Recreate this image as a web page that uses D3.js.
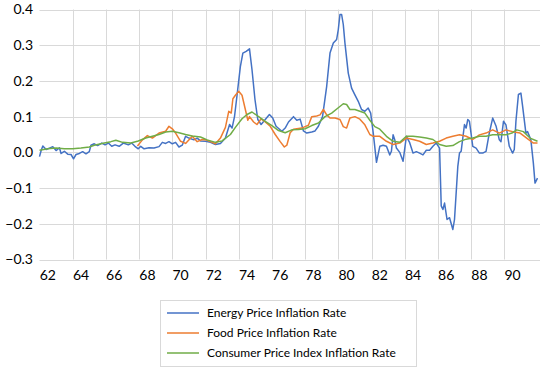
<!DOCTYPE html>
<html>
<head>
<meta charset="utf-8">
<script src="https://cdn.jsdelivr.net/npm/d3@7"></script>
<style>
  body { margin: 0; background: #fff; }
  text { font-family: Lato, "Open Sans", sans-serif; fill: #000; }
  .grid line { stroke: #d9d9d9; stroke-width: 1; }
  .series { fill: none; stroke-width: 1.5; stroke-linejoin: round; }
</style>
</head>
<body>
<div id="container"></div>
<script>
// readings, fractional years
var energyYears = [1962.0,1962.1,1962.2,1962.4,1962.6,1962.8,1963.0,1963.2,1963.3,1963.5,1963.7,1963.9,1964.05,1964.2,1964.4,1964.6,1964.8,1965.0,1965.1,1965.3,1965.5,1965.75,1965.95,1966.15,1966.35,1966.55,1966.8,1967.05,1967.35,1967.55,1967.75,1967.95,1968.1,1968.3,1968.6,1968.9,1969.2,1969.4,1969.6,1969.8,1970.0,1970.2,1970.4,1970.6,1970.8,1971.0,1971.3,1971.5,1971.7,1972.0,1972.3,1972.6,1972.9,1973.2,1973.45,1973.6,1973.75,1973.9,1974.1,1974.25,1974.45,1974.65,1974.8,1974.98,1975.15,1975.35,1975.6,1975.85,1976.05,1976.25,1976.6,1976.8,1977.0,1977.3,1977.5,1977.7,1977.9,1978.1,1978.4,1978.6,1978.8,1979.05,1979.3,1979.5,1979.7,1979.9,1980.0,1980.1,1980.2,1980.3,1980.4,1980.6,1980.8,1981.0,1981.2,1981.4,1981.6,1981.8,1981.95,1982.1,1982.3,1982.5,1982.7,1982.9,1983.1,1983.2,1983.3,1983.4,1983.5,1983.7,1983.9,1984.1,1984.3,1984.5,1984.7,1984.9,1985.1,1985.3,1985.5,1985.7,1985.9,1986.1,1986.2,1986.3,1986.4,1986.55,1986.7,1986.9,1987.0,1987.2,1987.3,1987.4,1987.6,1987.7,1987.8,1987.9,1988.1,1988.3,1988.5,1988.7,1988.9,1989.1,1989.3,1989.5,1989.7,1989.8,1989.95,1990.1,1990.3,1990.5,1990.6,1990.7,1990.85,1991.0,1991.1,1991.3,1991.4,1991.6,1991.75,1991.85,1992.0];
var energyRates = [-0.012,0.005,0.018,0.008,0.012,0.016,0.005,0.013,-0.003,0.003,-0.005,-0.006,-0.018,-0.006,-0.003,0.002,-0.004,0.002,0.02,0.024,0.019,0.026,0.021,0.026,0.017,0.021,0.017,0.026,0.021,0.026,0.017,0.01,0.017,0.01,0.013,0.012,0.016,0.028,0.025,0.03,0.024,0.028,0.015,0.02,0.045,0.04,0.035,0.04,0.032,0.031,0.028,0.022,0.025,0.04,0.078,0.068,0.101,0.16,0.24,0.278,0.283,0.29,0.232,0.148,0.092,0.078,0.092,0.106,0.096,0.073,0.059,0.068,0.085,0.1,0.09,0.093,0.06,0.054,0.057,0.06,0.073,0.1,0.185,0.278,0.306,0.316,0.344,0.386,0.386,0.358,0.306,0.222,0.18,0.161,0.143,0.12,0.115,0.124,0.11,0.056,-0.028,0.017,0.02,0.017,-0.007,0.003,0.049,0.035,0.012,0.0,-0.025,0.045,0.027,-0.002,0.002,-0.002,-0.007,0.006,0.006,0.017,0.026,0.012,-0.15,-0.16,-0.142,-0.188,-0.183,-0.216,-0.188,-0.039,-0.002,0.003,0.078,0.068,0.092,0.087,0.017,0.012,-0.002,-0.002,0.003,0.055,0.096,0.074,0.035,0.03,0.087,0.077,0.017,-0.002,0.008,0.087,0.162,0.166,0.13,0.054,0.058,0.035,-0.03,-0.086,-0.072];

var foodYears = [1967.9,1968.2,1968.5,1968.8,1969.2,1969.6,1969.8,1970.0,1970.2,1970.5,1970.8,1971.2,1971.5,1971.8,1972.0,1972.3,1972.6,1972.9,1973.2,1973.4,1973.55,1973.65,1973.8,1974.0,1974.2,1974.4,1974.55,1974.65,1974.9,1975.1,1975.35,1975.6,1975.9,1976.2,1976.5,1976.75,1976.9,1977.1,1977.3,1977.8,1978.0,1978.2,1978.4,1978.7,1978.9,1979.1,1979.3,1979.5,1979.8,1980.1,1980.3,1980.5,1980.7,1981.0,1981.3,1981.6,1981.9,1982.1,1982.5,1982.9,1983.3,1983.7,1984.1,1984.5,1984.9,1985.3,1985.7,1986.1,1986.5,1986.9,1987.3,1987.7,1988.1,1988.5,1988.9,1989.3,1989.7,1990.1,1990.5,1990.95,1991.35,1991.75,1992.0];
var foodRates = [0.018,0.035,0.047,0.04,0.054,0.059,0.073,0.066,0.054,0.031,0.025,0.045,0.03,0.036,0.035,0.03,0.024,0.04,0.07,0.115,0.11,0.15,0.16,0.171,0.16,0.12,0.09,0.1,0.085,0.078,0.094,0.085,0.073,0.05,0.03,0.015,0.02,0.055,0.065,0.068,0.072,0.076,0.1,0.102,0.105,0.12,0.105,0.096,0.096,0.092,0.072,0.068,0.096,0.1,0.093,0.077,0.05,0.045,0.045,0.031,0.022,0.026,0.04,0.036,0.031,0.022,0.026,0.031,0.04,0.045,0.049,0.045,0.036,0.049,0.054,0.063,0.054,0.063,0.058,0.054,0.04,0.026,0.026];

var cpiYears = [1962.0,1962.5,1963.0,1963.5,1964.0,1964.5,1965.0,1965.3,1965.9,1966.3,1966.6,1967.0,1967.5,1967.95,1968.4,1968.8,1969.2,1969.6,1970.0,1970.4,1970.8,1971.2,1971.7,1972.1,1972.6,1973.0,1973.5,1973.8,1974.2,1974.5,1974.8,1975.2,1975.6,1976.0,1976.4,1976.8,1977.2,1977.6,1978.0,1978.4,1978.8,1979.2,1979.6,1980.0,1980.3,1980.5,1980.7,1981.0,1981.3,1981.6,1981.9,1982.2,1982.5,1982.9,1983.3,1983.7,1984.1,1984.5,1984.9,1985.3,1985.7,1986.1,1986.5,1986.9,1987.3,1987.7,1988.1,1988.5,1988.9,1989.3,1989.7,1990.1,1990.5,1990.75,1991.15,1991.55,1992.0];
var cpiRates = [0.006,0.01,0.012,0.01,0.01,0.012,0.015,0.02,0.026,0.03,0.034,0.028,0.026,0.032,0.04,0.045,0.05,0.057,0.059,0.055,0.05,0.046,0.043,0.035,0.028,0.032,0.05,0.07,0.094,0.106,0.113,0.1,0.087,0.075,0.061,0.055,0.063,0.064,0.066,0.075,0.082,0.1,0.11,0.125,0.136,0.134,0.12,0.12,0.115,0.11,0.09,0.072,0.065,0.045,0.031,0.028,0.045,0.045,0.043,0.04,0.036,0.022,0.017,0.019,0.03,0.037,0.04,0.045,0.045,0.049,0.049,0.049,0.055,0.063,0.058,0.04,0.031];

var yTicks = [-0.3, -0.2, -0.1, 0.0, 0.1, 0.2, 0.3, 0.4];
var xTicks = [1962,1964,1966,1968,1970,1972,1974,1976,1978,1980,1982,1984,1986,1988,1990];
var seriesNames = ["Energy Price Inflation Rate", "Food Price Inflation Rate", "Consumer Price Index Inflation Rate"];
var seriesColors = ["#4472c4", "#ed7d31", "#70ad47"];

var chartWidth = 550, chartHeight = 369;
var plotLeft = 39.5, plotRight = 540, plotTop = 9.5, plotBottom = 259.5;

var chart = d3.select("#container").append("svg")
  .attr("width", chartWidth)
  .attr("height", chartHeight);

var x = d3.scaleLinear().domain([1962, 1992.15]).range([plotLeft, plotRight]);
var y = d3.scaleLinear().domain([-0.3, 0.4]).range([plotBottom, plotTop]);

// gridlines
var grid = chart.append("g").attr("class", "grid");
grid.selectAll("line.h").data(yTicks).enter().append("line")
  .attr("class", "h")
  .attr("x1", plotLeft).attr("x2", plotRight)
  .attr("y1", function (d) { return Math.round(y(d)) + 0.5; })
  .attr("y2", function (d) { return Math.round(y(d)) + 0.5; });
grid.selectAll("line.v").data(xTicks.slice(1)).enter().append("line")
  .attr("class", "v")
  .attr("x1", function (d) { return Math.round(x(d)) + 0.5; })
  .attr("x2", function (d) { return Math.round(x(d)) + 0.5; })
  .attr("y1", plotTop).attr("y2", plotBottom);

// y labels
chart.append("g").selectAll("text").data(yTicks).enter().append("text")
  .attr("x", 33)
  .attr("y", function (d) { return y(d); })
  .attr("dy", "0.35em")
  .attr("text-anchor", "end")
  .style("font-size", "14px")
  .text(function (d) { return d3.format(".1f")(d).replace("-", "\u2212"); });

// x labels sit in the middle of the year
chart.append("g").selectAll("text").data(xTicks).enter().append("text")
  .attr("x", function (d) { return x(d + 0.5); })
  .attr("y", 280)
  .attr("text-anchor", "middle")
  .style("font-size", "14px")
  .text(function (d) { return String(d).slice(2); });

// lines
var series = [
  {years: energyYears, rates: energyRates},
  {years: foodYears, rates: foodRates},
  {years: cpiYears, rates: cpiRates}
];
var line = d3.line()
  .x(function (d) { return x(d[0]); })
  .y(function (d) { return y(d[1]); });

chart.append("g").selectAll("path").data(series).enter().append("path")
  .attr("class", "series")
  .attr("stroke", function (d, i) { return seriesColors[i]; })
  .attr("d", function (d) { return line(d3.zip(d.years, d.rates)); });

// legend
var legend = chart.append("g").attr("transform", "translate(160,300)");
legend.append("rect")
  .attr("x", 0.5).attr("y", 0.5)
  .attr("width", 256).attr("height", 66)
  .attr("fill", "#fff")
  .attr("stroke", "#d9d9d9");
var item = legend.selectAll("g.item").data(seriesNames).enter().append("g")
  .attr("class", "item")
  .attr("transform", function (d, i) { return "translate(0," + (13 + i * 20) + ")"; });
item.append("line")
  .attr("x1", 7).attr("x2", 39)
  .attr("stroke-width", 1.5)
  .attr("stroke", function (d, i) { return seriesColors[i]; });
item.append("text")
  .attr("x", 47)
  .attr("dy", "0.35em")
  .style("font-size", "12px")
  .text(function (d) { return d; });
</script>
</body>
</html>
